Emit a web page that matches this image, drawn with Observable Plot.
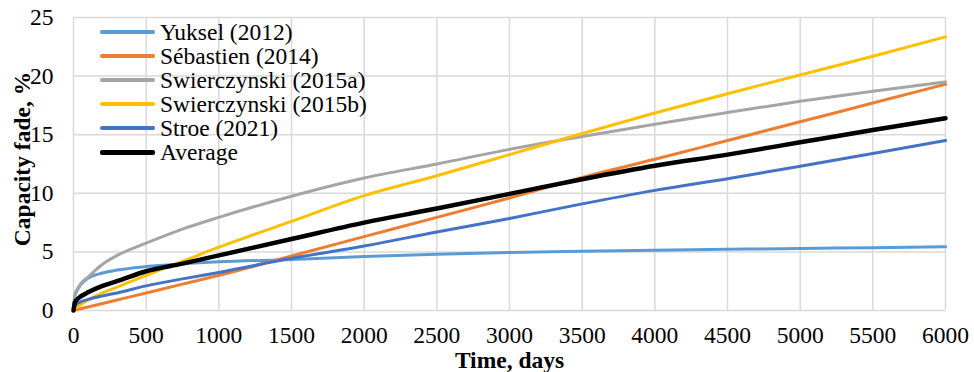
<!DOCTYPE html>
<html>
<head>
<meta charset="utf-8">
<script src="https://cdn.jsdelivr.net/npm/d3@7"></script>
<script src="https://cdn.jsdelivr.net/npm/@observablehq/plot@0.6"></script>
<style>
  body { margin: 0; background: #fff; }
  #wrap { position: relative; width: 974px; height: 372px; font-family: "Liberation Serif", "Times New Roman", serif; }
  #wrap svg text { font-family: "Liberation Serif", "Times New Roman", serif; }
  #legend { position: absolute; left: 100px; top: 19.6px; font-size: 23.5px; line-height: 24.1px; color: #000; }
  .row { display: flex; align-items: center; height: 24.1px; white-space: nowrap; }
  .sw { width: 55px; height: 4px; border-radius: 2px; margin-right: 5px; }
</style>
</head>
<body>
<div id="wrap"><div id="legend"></div></div>
<script>
const days = [0, 10, 25, 50, 100, 200, 300, 500, 750, 1000, 1500, 2000, 2500, 3000, 3500, 4000, 4500, 5000, 5500, 6000];

const yuksel2012      = [0, 1.2, 1.7, 2.2, 2.75, 3.2, 3.45, 3.75, 3.98, 4.15, 4.35, 4.6, 4.8, 4.95, 5.05, 5.14, 5.22, 5.29, 5.36, 5.43];
const sebastien2014   = [0, 0.03, 0.08, 0.15, 0.3, 0.6, 0.9, 1.5, 2.25, 3.0, 4.65, 6.3, 7.95, 9.6, 11.35, 12.9, 14.5, 16.1, 17.7, 19.3];
const swierczynski15a = [0, 1.4, 1.8, 2.3, 2.85, 3.95, 4.7, 5.75, 6.95, 7.95, 9.75, 11.3, 12.5, 13.75, 14.85, 15.9, 16.9, 17.85, 18.7, 19.5];
const swierczynski15b = [0, 0.15, 0.3, 0.5, 0.9, 1.5, 2.0, 3.0, 4.2, 5.4, 7.6, 9.8, 11.5, 13.3, 15.1, 16.85, 18.5, 20.1, 21.7, 23.35];
const stroe2021       = [0, 0.45, 0.6, 0.75, 0.95, 1.25, 1.5, 2.1, 2.7, 3.25, 4.45, 5.5, 6.7, 7.85, 9.1, 10.25, 11.25, 12.3, 13.4, 14.5];
const average         = [0, 0.7, 0.95, 1.2, 1.55, 2.1, 2.5, 3.35, 4.0, 4.7, 6.1, 7.5, 8.7, 9.95, 11.2, 12.35, 13.3, 14.35, 15.4, 16.4];

const seriesNames  = ["Yuksel (2012)", "Sébastien (2014)", "Swierczynski (2015a)", "Swierczynski (2015b)", "Stroe (2021)", "Average"];
const seriesValues = [yuksel2012, sebastien2014, swierczynski15a, swierczynski15b, stroe2021, average];
const seriesColors = ["#5B9BD5", "#ED7D31", "#A5A5A5", "#FFC000", "#4472C4", "#000000"];
const seriesWidths = [3, 3, 3, 3, 3, 4.5];

const xTicks = d3.range(0, 6001, 500);
const yTicks = [0, 5, 10, 15, 20, 25];

const rows = [];
seriesNames.forEach((name, i) => {
  days.forEach((d, j) => rows.push({series: name, day: d, value: seriesValues[i][j], idx: i}));
});

const font = "'Liberation Serif', 'Times New Roman', serif";

const marks = [
  Plot.gridX(xTicks, {stroke: "#d9d9d9", strokeOpacity: 1, strokeWidth: 1.5}),
  Plot.gridY(yTicks, {stroke: "#d9d9d9", strokeOpacity: 1, strokeWidth: 1.5}),
  Plot.axisX({ticks: xTicks, tickSize: 0, tickPadding: 16, fontSize: 23.5, label: null, tickFormat: d => String(d)}),
  Plot.axisY({ticks: yTicks, tickSize: 0, tickPadding: 20, fontSize: 23.5, label: null}),
];
seriesNames.forEach((name, i) => {
  marks.push(Plot.line(rows.filter(r => r.idx === i), {
    x: "day", y: "value", stroke: seriesColors[i], strokeWidth: seriesWidths[i],
    curve: "monotone-x", strokeLinecap: "round", strokeLinejoin: "round"
  }));
});
marks.push(Plot.text(["Time, days"], {frameAnchor: "bottom", textAnchor: "middle", lineAnchor: "middle", dy: 50, fontWeight: "bold", fontSize: 23.5, fill: "#000"}));
marks.push(Plot.text(["Capacity fade, %"], {frameAnchor: "left", textAnchor: "middle", lineAnchor: "middle", dx: -51, dy: -5, rotate: -90, fontWeight: "bold", fontSize: 23.5, fill: "#000"}));

const chart = Plot.plot({
  width: 974,
  height: 372,
  marginLeft: 73,
  marginRight: 29,
  marginTop: 17,
  marginBottom: 62,
  style: {fontFamily: font, color: "#000", background: "transparent", overflow: "visible"},
  x: {domain: [0, 6000]},
  y: {domain: [0, 25]},
  marks
});

const wrap = document.getElementById("wrap");
wrap.insertBefore(chart, wrap.firstChild);

const legend = document.getElementById("legend");
seriesNames.forEach((name, i) => {
  const row = document.createElement("div");
  row.className = "row";
  const sw = document.createElement("div");
  sw.className = "sw";
  sw.style.background = seriesColors[i];
  if (i === seriesNames.length - 1) { sw.style.height = "5px"; }
  const t = document.createElement("span");
  t.textContent = name;
  row.appendChild(sw);
  row.appendChild(t);
  legend.appendChild(row);
});
</script>
</body>
</html>
